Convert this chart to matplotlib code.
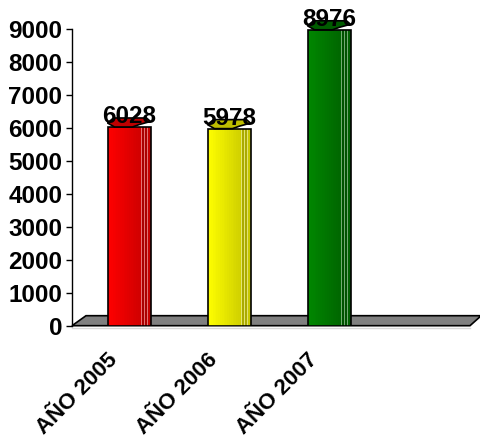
import numpy as np
import matplotlib
matplotlib.use('Agg')
import matplotlib.pyplot as plt
from matplotlib.patches import Polygon
from matplotlib.colors import to_rgb

# data
categories = ['AÑO 2005', 'AÑO 2006', 'AÑO 2007']
values = [6028, 5978, 8976]
light_colors = ['#FF0000', '#FFFF00', '#008800']
dark_colors = ['#C80000', '#C8C800', '#006000']

plt.rcParams['font.family'] = ['Liberation Sans', 'DejaVu Sans']
plt.rcParams['font.weight'] = 'bold'

fig = plt.figure(figsize=(4.8, 4.44), dpi=100)
ax = fig.add_axes([72 / 480, 118.3 / 444, 400 / 480, 296.7 / 444])
ax.set_xlim(-0.5, 3.5)
ax.set_ylim(0, 9000)

# pixel -> data helpers for the fake 3D depth
px_x = 4.0 / 400
px_y = 9000 / 296.7
depth_x = 14 * px_x
depth_y = 10 * px_y

# floor
floor = Polygon([(-0.5, 0), (3.5 - 2 * px_x, 0), (3.5 + 0.8 * depth_x - 2 * px_x, depth_y),
                 (-0.5 + depth_x, depth_y)], closed=True, facecolor='#808080',
                edgecolor='black', lw=1.2, zorder=1, clip_on=False)
ax.add_patch(floor)
ax.plot([-0.5, 3.5 - 2 * px_x], [-2 * px_y, -2 * px_y], color='#D8D8D8', lw=1,
        clip_on=False, zorder=1)

width = 0.43
n_strips = 24
for i, (v, c1, c2) in enumerate(zip(values, light_colors, dark_colors)):
    left = i + depth_x / 2 - width / 2
    a = np.array(to_rgb(c1))
    b = np.array(to_rgb(c2))
    # gradient body
    edges = np.linspace(0, 1, n_strips + 1)
    for k in range(n_strips):
        t = (edges[k] + edges[k + 1]) / 2
        t = min(1.0, t * 1.1)
        col = a * (1 - t) + b * t
        ax.bar(left + edges[k] * width, v, width=width / n_strips + 0.0005, align='edge',
               color=col, lw=0, zorder=2)
    # highlight lines / facets
    for f, lc in [(0.12, 'white'), (0.78, 'white'), (0.86, 'white'), (0.93, 'white')]:
        ax.bar(left + f * width, v, width=0.006, align='edge', color=lc, alpha=0.45,
               lw=0, zorder=3)
    for f in [0.80, 0.88]:
        ax.bar(left + f * width, v, width=0.02, align='edge', color=b * 0.85,
               lw=0, zorder=3)
    # outline
    ax.bar(left, v, width=width, align='edge', fill=False, edgecolor='black', lw=1.2,
           zorder=4)
    # top cap
    cap = [(0, 4), (7, 0), (25, 0), (32, 2.5), (43, 5.5), (39, 9), (6, 9)]
    pts = [(left + dx * px_x, v + dy * px_y) for dx, dy in cap]
    ax.add_patch(Polygon(pts, closed=True, facecolor=b * 0.95, edgecolor='black',
                         lw=1.2, zorder=5, clip_on=False))
    ax.annotate(str(v), (i + depth_x / 2, v), xytext=(0, 4), textcoords='offset pixels',
                ha='center', va='baseline', fontsize=17.5, fontweight='bold',
                zorder=6, annotation_clip=False)

ax.set_yticks(range(0, 9001, 1000))
ax.tick_params(axis='y', length=4, width=1, pad=3, labelsize=17.5)
ax.set_xticks(range(len(categories)))
ax.set_xticklabels(categories, rotation=45, ha='right', fontsize=16, fontweight='bold')
ax.tick_params(axis='x', length=0, pad=17)
for s in ['top', 'right', 'bottom']:
    ax.spines[s].set_visible(False)
ax.spines['left'].set_linewidth(1)
ax.patch.set_visible(False)

fig.savefig('out.png', dpi=100)
